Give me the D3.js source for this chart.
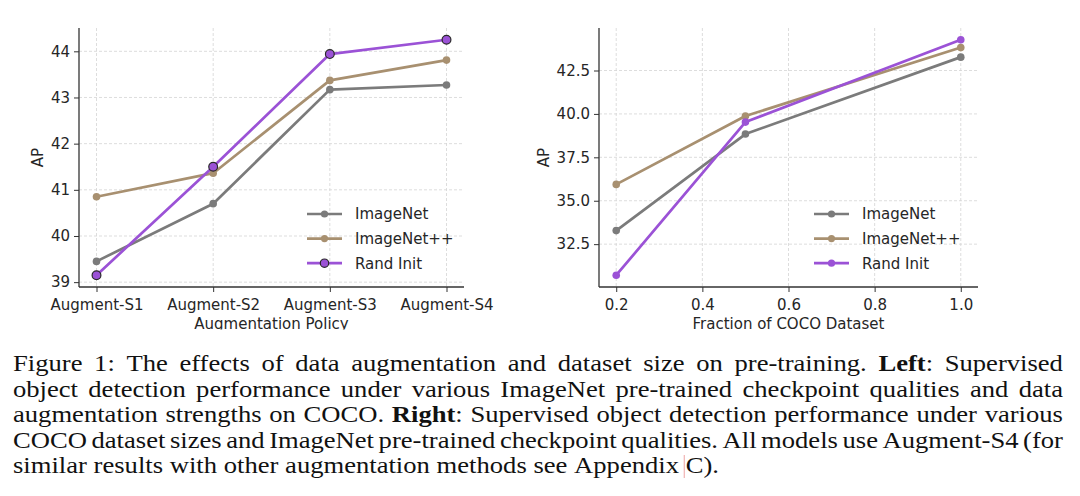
<!DOCTYPE html>
<html>
<head>
<meta charset="utf-8">
<script src="https://cdn.jsdelivr.net/npm/d3@7"></script>
<style>
  body { margin: 0; background: #fff; }
  svg text { font-family: "DejaVu Sans", sans-serif; fill: #262626; }
  .caption text { font-family: "Liberation Serif", "Times New Roman", serif; fill: #111; }
</style>
</head>
<body>
<svg id="fig" width="1080" height="496"></svg>
<script>
// ---- data ----
var policies = ['Augment-S1', 'Augment-S2', 'Augment-S3', 'Augment-S4'];
var policyImageNet = [39.45, 40.70, 43.17, 43.27];
var policyImageNetPP = [40.85, 41.36, 43.37, 43.81];
var policyRandInit = [39.15, 41.50, 43.94, 44.25];

var fractions = [0.2, 0.5, 1.0];
var fracImageNet = [33.28, 38.84, 43.27];
var fracImageNetPP = [35.94, 39.88, 43.82];
var fracRandInit = [30.71, 39.53, 44.27];

var seriesNames = ['ImageNet', 'ImageNet++', 'Rand Init'];
var leftTicks = [39, 40, 41, 42, 43, 44];
var rightYTicks = [32.5, 35.0, 37.5, 40.0, 42.5];
var rightXTicks = [0.2, 0.4, 0.6, 0.8, 1.0];

var colors = ['#7b7b7b', '#a89070', '#9b52d6'];

// **...** marks bold runs
var captionLines = [
  'Figure 1: The effects of data augmentation and dataset size on pre-training. **Left**: Supervised',
  'object detection performance under various ImageNet pre-trained checkpoint qualities and data',
  'augmentation strengths on COCO. **Right**: Supervised object detection performance under various',
  'COCO dataset sizes and ImageNet pre-trained checkpoint qualities. All models use Augment-S4 (for',
  'similar results with other augmentation methods see Appendix C).'
];

var svg = d3.select('#fig');

// matplotlib-like 5% margins on the data range
function padded(vals, frac) {
  var lo = d3.min(vals), hi = d3.max(vals), m = (hi - lo) * frac;
  return [lo - m, hi + m];
}

function drawPanel(opt) {
  var g = svg.append('g');
  if (opt.clipBottom) {
    var id = 'clip' + opt.left;
    svg.append('clipPath').attr('id', id)
      .append('rect').attr('x', 0).attr('y', 0).attr('width', 1080).attr('height', opt.clipBottom);
    g.attr('clip-path', 'url(#' + id + ')');
  }

  var x = d3.scaleLinear().domain(opt.xDomain).range([opt.left, opt.right]);
  var y = d3.scaleLinear().domain(opt.yDomain).range([opt.bottom, opt.top]);

  // grid
  g.append('g').selectAll('line')
    .data(opt.xTicks).enter().append('line')
    .attr('x1', function(d) { return x(d); }).attr('x2', function(d) { return x(d); })
    .attr('y1', opt.top).attr('y2', opt.bottom)
    .attr('stroke', '#d4d4d4').attr('stroke-width', 0.8).attr('stroke-dasharray', '3,2');
  g.append('g').selectAll('line')
    .data(opt.yTicks).enter().append('line')
    .attr('y1', function(d) { return y(d); }).attr('y2', function(d) { return y(d); })
    .attr('x1', opt.left).attr('x2', opt.right)
    .attr('stroke', '#d4d4d4').attr('stroke-width', 0.8).attr('stroke-dasharray', '3,2');

  // axes
  var xAxis = d3.axisBottom(x).tickValues(opt.xTicks).tickFormat(opt.xFormat).tickSize(5).tickPadding(4);
  var yAxis = d3.axisLeft(y).tickValues(opt.yTicks).tickFormat(opt.yFormat).tickSize(5).tickPadding(4);
  var gx = g.append('g').attr('transform', 'translate(0,' + opt.bottom + ')').call(xAxis);
  var gy = g.append('g').attr('transform', 'translate(' + opt.left + ',0)').call(yAxis);
  [gx, gy].forEach(function(a) {
    a.select('.domain').remove();
    a.selectAll('line').attr('stroke', '#333').attr('stroke-width', 1);
    a.selectAll('text').attr('font-size', 15).attr('fill', '#262626')
      .style('font-family', '"DejaVu Sans", sans-serif');
  });
  gx.selectAll('text').attr('dy', '0.95em');
  // left and bottom spines only
  g.append('line').attr('x1', opt.left).attr('x2', opt.left).attr('y1', opt.top).attr('y2', opt.bottom)
    .attr('stroke', '#333').attr('stroke-width', 1.3);
  g.append('line').attr('x1', opt.left).attr('x2', opt.right).attr('y1', opt.bottom).attr('y2', opt.bottom)
    .attr('stroke', '#333').attr('stroke-width', 1.3);

  // labels
  g.append('text').attr('x', (opt.left + opt.right) / 2).attr('y', opt.bottom + 42)
    .attr('text-anchor', 'middle').attr('font-size', 15).text(opt.xLabel);
  g.append('text')
    .attr('transform', 'translate(' + opt.yLabelX + ',' + ((opt.top + opt.bottom) / 2) + ') rotate(-90)')
    .attr('text-anchor', 'middle').attr('font-size', 15).text('AP');

  // lines
  var line = d3.line().x(function(d) { return x(d[0]); }).y(function(d) { return y(d[1]); });
  opt.series.forEach(function(vals, si) {
    var pts = opt.xs.map(function(xv, i) { return [xv, vals[i]]; });
    g.append('path').datum(pts).attr('d', line)
      .attr('fill', 'none').attr('stroke', colors[si]).attr('stroke-width', 2.7)
      .attr('stroke-linejoin', 'round');
    var edged = opt.edgeLast && si === 2;
    g.selectAll('circle.s' + si).data(pts).enter().append('circle')
      .attr('class', 's' + si)
      .attr('cx', function(d) { return x(d[0]); })
      .attr('cy', function(d) { return y(d[1]); })
      .attr('r', edged ? 4.4 : 3.8)
      .attr('fill', colors[si])
      .attr('stroke', edged ? '#2a2a2a' : 'none')
      .attr('stroke-width', 1.2);
  });

  // legend
  seriesNames.forEach(function(name, si) {
    var ly = opt.legendY + si * 24.6;
    g.append('line').attr('x1', opt.legendX).attr('x2', opt.legendX + 35)
      .attr('y1', ly).attr('y2', ly).attr('stroke', colors[si]).attr('stroke-width', 2.7);
    var edged = opt.edgeLast && si === 2;
    g.append('circle').attr('cx', opt.legendX + 17.5).attr('cy', ly)
      .attr('r', edged ? 4.2 : 3.6).attr('fill', colors[si])
      .attr('stroke', edged ? '#2a2a2a' : 'none').attr('stroke-width', 1.2);
    g.append('text').attr('x', opt.legendX + 48).attr('y', ly).attr('dy', '0.36em')
      .attr('font-size', 15).text(name);
  });
}

drawPanel({
  left: 79, right: 464, top: 28, bottom: 287,
  xDomain: [-0.15, 3.15], xs: d3.range(policies.length), xTicks: d3.range(policies.length),
  xFormat: function(i) { return policies[i]; },
  yDomain: padded(policyImageNet.concat(policyImageNetPP, policyRandInit), 0.05),
  yTicks: leftTicks, yFormat: d3.format('d'),
  xLabel: 'Augmentation Policy', yLabelX: 43,
  series: [policyImageNet, policyImageNetPP, policyRandInit],
  edgeLast: true, legendX: 307, legendY: 214, clipBottom: 329.5
});

drawPanel({
  left: 599, right: 978, top: 28, bottom: 287,
  xDomain: padded(fractions, 0.05), xs: fractions, xTicks: rightXTicks,
  xFormat: d3.format('.1f'),
  yDomain: padded(fracImageNet.concat(fracImageNetPP, fracRandInit), 0.05),
  yTicks: rightYTicks, yFormat: d3.format('.1f'),
  xLabel: 'Fraction of COCO Dataset', yLabelX: 549,
  series: [fracImageNet, fracImageNetPP, fracRandInit],
  edgeLast: false, legendX: 814, legendY: 214
});

// ---- caption, justified line by line ----
var cap = svg.append('g').attr('class', 'caption');
var capLeft = 13, capRight = 1063, capTop = 371, capLead = 25.5, capSize = 23;
var capWidth = capRight - capLeft;

// build one <text> per word (unscaled), measure
var rows = captionLines.map(function(str, li) {
  var baseY = capTop + li * capLead;
  var bold = false;
  var words = str.split(' ').map(function(w) {
    var t = cap.append('text').attr('font-size', capSize);
    w.split('**').forEach(function(part, pi) {
      if (pi > 0) bold = !bold;
      if (part !== '') t.append('tspan').attr('font-weight', bold ? 'bold' : 'normal').text(part);
    });
    return { node: t, w: t.node().getComputedTextLength() };
  });
  return { y: baseY, words: words, last: li === captionLines.length - 1 };
});

// tightest inter-word space TeX would allow on the fullest line
var minSpace = capSize * 0.17;
var naturals = rows.filter(function(r) { return !r.last; }).map(function(r) {
  return d3.sum(r.words, function(w) { return w.w; }) + minSpace * (r.words.length - 1);
});
var sx = capWidth / d3.max(naturals);

rows.forEach(function(r) {
  var total = d3.sum(r.words, function(w) { return w.w * sx; });
  var gap = r.last ? capSize * 0.25 * sx : (capWidth - total) / (r.words.length - 1);
  var cx = capLeft;
  r.words.forEach(function(w, i) {
    w.node.attr('transform', 'translate(' + cx + ',' + r.y + ') scale(' + sx + ',1)');
    if (r.last && i === r.words.length - 1) {
      // thin link-box mark before "C)."
      cap.append('line').attr('x1', cx - 1.5).attr('x2', cx - 1.5)
        .attr('y1', r.y - 18).attr('y2', r.y + 5)
        .attr('stroke', '#e88a8a').attr('stroke-width', 0.8);
    }
    cx += w.w * sx + gap;
  });
});
</script>
</body>
</html>
